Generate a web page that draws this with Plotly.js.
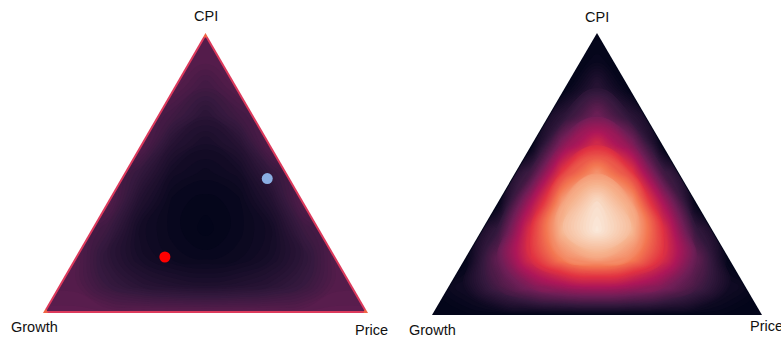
<!DOCTYPE html>
<html><head><meta charset="utf-8">
<script src="https://cdn.plot.ly/plotly-3.0.1.min.js"></script>
<style>html,body{margin:0;padding:0;background:#fff}#chart{width:781px;height:337px}</style>
</head><body><div id="chart"></div>
<script>
// Corner labels (Growth bottom-left, Price bottom-right, CPI top)
const cornerLabels = ['Growth', 'Price', 'CPI'];

// Grid columns (horizontal position in the triangle, 0 = Growth corner, 1 = Price corner)
const gridX = [0, 0.1, 0.2, 0.3, 0.4, 0.5, 0.6, 0.7, 0.8, 0.9, 1];
// Grid rows (CPI share, 0 = bottom edge, 1 = CPI corner)
const gridCPI = [0, 0.1, 0.2, 0.3, 0.4, 0.5, 0.6, 0.7, 0.8, 0.9, 1];

// Left panel: value (0 dark centre, rising to the edges)
const zLeft = [
  [0.24,0.24,0.24,0.24,0.24,0.24,0.24,0.24,0.24,0.24,0.24],
  [0.22,0.22,0.15,0.11,0.09,0.08,0.09,0.11,0.15,0.22,0.22],
  [0.22,0.22,0.12,0.06,0.03,0.02,0.03,0.06,0.12,0.22,0.22],
  [0.22,0.22,0.16,0.05,0.02,0.00,0.02,0.05,0.16,0.22,0.22],
  [0.22,0.22,0.22,0.09,0.02,0.01,0.02,0.09,0.22,0.22,0.22],
  [0.22,0.22,0.22,0.14,0.05,0.03,0.05,0.14,0.22,0.22,0.22],
  [0.22,0.22,0.22,0.22,0.10,0.06,0.10,0.22,0.22,0.22,0.22],
  [0.22,0.22,0.22,0.22,0.17,0.11,0.17,0.22,0.22,0.22,0.22],
  [0.22,0.22,0.22,0.22,0.22,0.17,0.22,0.22,0.22,0.22,0.22],
  [0.22,0.22,0.22,0.22,0.22,0.22,0.22,0.22,0.22,0.22,0.22],
  [0.22,0.22,0.22,0.22,0.22,0.22,0.22,0.22,0.22,0.22,0.22]
];

// Right panel: value (bright centre, dark edges)
const zRight = [
  [0,0,0,0,0,0,0,0,0,0,0],
  [0,0.05,0.19,0.32,0.40,0.43,0.40,0.32,0.19,0.05,0],
  [0,0,0.26,0.55,0.75,0.82,0.75,0.55,0.26,0,0],
  [0,0,0.15,0.57,0.88,0.99,0.88,0.57,0.15,0,0],
  [0,0,0,0.42,0.82,0.96,0.82,0.42,0,0,0],
  [0,0,0,0.19,0.62,0.79,0.62,0.19,0,0,0],
  [0,0,0,0,0.36,0.55,0.36,0,0,0,0],
  [0,0,0,0,0.13,0.30,0.13,0,0,0,0],
  [0,0,0,0,0,0.12,0,0,0,0,0],
  [0,0,0,0,0,0.02,0,0,0,0,0],
  [0,0,0,0,0,0,0,0,0,0,0]
];

// Points on the left panel (ternary shares)
const pointGrowth = [0.525, 0.07];
const pointPrice  = [0.275, 0.45];
const pointCPI    = [0.20, 0.48];

// ---- styling / build ----
const H = Math.sqrt(3) / 2;
const pointColors = ['#ff0000', '#8aaee3'];
const rocket = [[0,'#03051A'],[0.1429,'#35193e'],[0.2857,'#701f57'],[0.4286,'#ad1759'],
                [0.5714,'#e13342'],[0.7143,'#f37651'],[0.8571,'#f6b48f'],[1,'#faebdd']];
const gridY = gridCPI.map(c => c * H);
const toX = (g, p, c) => p + c / 2;
const toY = (g, p, c) => c * H;

const corners = { g: [toX(1,0,0), toY(1,0,0)], p: [toX(0,1,0), toY(0,1,0)], c: [toX(0,0,1), toY(0,0,1)] };

function field(z, xa, ya) {
  return {type:'contour', x: gridX, y: gridY, z: z, colorscale: rocket, zmin: 0, zmax: 1,
          autocontour: false, contours: {start: 0.005, end: 1, size: 0.01, coloring: 'fill', showlines: false},
          line: {width: 0, smoothing: 1.3}, showscale: false, xaxis: xa, yaxis: ya, hoverinfo: 'skip'};
}
function masks(xa, ya) {
  const e = 0.06, top = H + 0.06;
  return [
    {type:'scatter', mode:'none', fill:'toself', fillcolor:'#ffffff', xaxis: xa, yaxis: ya, hoverinfo:'skip',
     x:[-e, corners.g[0], corners.c[0], corners.c[0], -e], y:[-0.01, corners.g[1], corners.c[1], top, top]},
    {type:'scatter', mode:'none', fill:'toself', fillcolor:'#ffffff', xaxis: xa, yaxis: ya, hoverinfo:'skip',
     x:[1+e, corners.p[0], corners.c[0], corners.c[0], 1+e], y:[-0.01, corners.p[1], corners.c[1], top, top]}
  ];
}
const edgeLeft = {type:'scatter', mode:'lines+markers', xaxis:'x', yaxis:'y', hoverinfo:'skip',
  x:[corners.g[0], corners.p[0], corners.c[0], corners.g[0]],
  y:[corners.g[1], corners.p[1], corners.c[1], corners.g[1]],
  line:{color:'#dc3a5c', width:4}, marker:{color:'#f06445', size:9, line:{width:0}}};
const edgeRight = {type:'scatter', mode:'lines', xaxis:'x2', yaxis:'y2', hoverinfo:'skip',
  x:[corners.g[0], corners.p[0], corners.c[0], corners.g[0]],
  y:[corners.g[1], corners.p[1], corners.c[1], corners.g[1]],
  line:{color:'#03051A', width:2}};
const pts = {type:'scatter', mode:'markers', xaxis:'x', yaxis:'y',
  x: pointGrowth.map((g,i) => toX(g, pointPrice[i], pointCPI[i])),
  y: pointGrowth.map((g,i) => toY(g, pointPrice[i], pointCPI[i])),
  marker:{color: pointColors, size: 11, line:{width:0}}};

const data = [field(zLeft,'x','y'), field(zRight,'x2','y2'), edgeLeft, edgeRight,
              ...masks('x','y'), ...masks('x2','y2'), pts];

const ax = (dom, rng) => ({domain: dom, range: rng, visible: false, showgrid: false, zeroline: false, fixedrange: true});
const font = {family: 'Liberation Sans, Arial, sans-serif', size: 14.5, color: '#111'};
function lbl(xa, ya, pos, text, dx, dy) {
  return {xref: xa, yref: ya, x: pos[0], y: pos[1], text: text, showarrow: false, font: font,
          xanchor: 'center', yanchor: 'middle', xshift: dx, yshift: dy};
}
const layout = {
  width: 781, height: 337, margin: {l:0, r:0, t:0, b:0},
  paper_bgcolor: '#fff', plot_bgcolor: '#fff', showlegend: false,
  xaxis: ax([43/781, 368/781], [0, 1]),
  yaxis: ax([24/337, 304/337], [0, H]),
  xaxis2: ax([432/781, 762/781], [0, 1]),
  yaxis2: ax([22/337, 304/337], [0, H]),
  annotations: [
    lbl('x','y', corners.c, cornerLabels[2], 0, 17),
    lbl('x','y', corners.g, cornerLabels[0], -9, -14),
    lbl('x','y', corners.p, cornerLabels[1], 3, -17),
    lbl('x2','y2', corners.c, cornerLabels[2], 0, 16),
    lbl('x2','y2', corners.g, cornerLabels[0], 0, -15),
    lbl('x2','y2', corners.p, cornerLabels[1], 4, -11)
  ]
};
Plotly.newPlot('chart', data, layout, {staticPlot: true, displayModeBar: false});
</script></body></html>
